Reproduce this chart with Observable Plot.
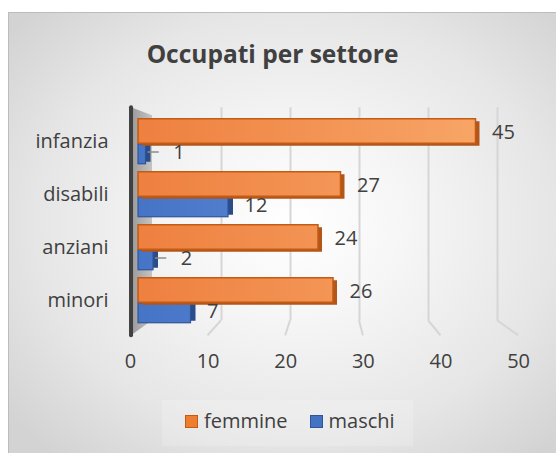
<!DOCTYPE html>
<html><head><meta charset="utf-8">
<script src="https://cdn.jsdelivr.net/npm/d3@7"></script>
<script src="https://cdn.jsdelivr.net/npm/@observablehq/plot@0.6"></script>
<style>
body{margin:0;background:#fff;font-family:"Open Sans",sans-serif;}
#wrap{position:relative;width:556px;height:453px;overflow:hidden;}
#frame{position:absolute;left:8px;top:12px;width:560px;height:460px;border-left:1.5px solid #bcbcbc;border-top:1.5px solid #bcbcbc;
 background:radial-gradient(ellipse 66% 66% at 51% 46%, #ffffff 0%, #f6f6f6 30%, #e6e6e6 70%, #d3d3d3 100%);}
#title{position:absolute;left:0;width:545px;top:38px;line-height:32px;text-align:center;font-weight:700;font-size:24.5px;color:#404040;}
#chart{position:absolute;left:0;top:90px;}
#legendbox{position:absolute;left:162px;top:400px;width:251px;height:46px;background:rgba(255,255,255,0.18);}
#legend{position:absolute;left:185px;top:406px;display:flex;align-items:center;font-size:20px;color:#404040;line-height:30px;}
.sw{width:11px;height:11px;border:1.5px solid;margin-right:6px;}
</style></head>
<body><div id="wrap"><div id="frame"></div><div id="title">Occupati per settore</div><div id="chart"></div><div id="legendbox"></div><div id="legend"></div></div>
<script>
const categories = ["infanzia", "disabili", "anziani", "minori"];
const seriesNames = ["femmine", "maschi"];
const femmine = [45, 27, 24, 26];
const maschi = [1, 12, 2, 7];
const xTicks = [0, 10, 20, 30, 40, 50];
const colors = {femmine: "#ED7D31", maschi: "#4472C4"};
const strokes = {femmine: "#C55A11", maschi: "#2F5597"};

const fem = categories.map((c, i) => ({cat: c, series: "femmine", value: femmine[i]}));
const mas = categories.map((c, i) => ({cat: c, series: "maschi", value: maschi[i]}));

// perspective helpers (data units of the front bar plane)
const backU = v => 1.87 + 0.92 * v;   // back wall plane
const frontU = v => -1.07 + 1.035 * v; // front floor edge
const textColor = "#404040";

const chrome = (index, scales, values, dims) => {
  const x = scales.x;
  const g = d3.create("svg:g");
  const defs = g.append("defs");
  const go = defs.append("linearGradient").attr("id", "gOrange").attr("gradientUnits", "userSpaceOnUse")
    .attr("x1", x(0)).attr("x2", x(50)).attr("y1", 0).attr("y2", 0);
  go.append("stop").attr("offset", 0).attr("stop-color", "#EE8040");
  go.append("stop").attr("offset", 1).attr("stop-color", "#F8A96A");
  const gb = defs.append("linearGradient").attr("id", "gBlue").attr("gradientUnits", "userSpaceOnUse")
    .attr("x1", x(0)).attr("x2", x(50)).attr("y1", 0).attr("y2", 0);
  gb.append("stop").attr("offset", 0).attr("stop-color", "#4674C6");
  gb.append("stop").attr("offset", 1).attr("stop-color", "#7098DE");
  const gw = defs.append("linearGradient").attr("id", "gWall").attr("x1", 0).attr("x2", 1).attr("y1", 0).attr("y2", 0);
  gw.append("stop").attr("offset", 0).attr("stop-color", "#9a9a9a");
  gw.append("stop").attr("offset", 1).attr("stop-color", "#c4c4c4");
  const top = dims.marginTop, bot = dims.height - dims.marginBottom;
  const xa = x(-0.93), xb = x(backU(0));
  g.append("path").attr("d", `M${xa},${top - 7}L${xb},${top + 1}L${xb},${bot - 8}L${xa},${bot + 7}Z`).attr("fill", "url(#gWall)");
  for (const v of xTicks.slice(1)) {
    g.append("path").attr("d", `M${x(backU(v))},${bot - 8}L${x(frontU(v))},${bot + 7}`)
      .attr("stroke", "#d6d6d6").attr("stroke-width", 2).attr("fill", "none");
  }
  g.append("line").attr("x1", xa).attr("x2", xa).attr("y1", top - 7).attr("y2", bot + 7)
    .attr("stroke", "#404040").attr("stroke-width", 4).attr("stroke-linecap", "round");
  return g.node();
};

const small = mas.filter(d => d.value < 3);
const labelX = d => d.value < 3 ? d.value + 1.5 : d.value;

const plot = Plot.plot({
  width: 556, height: 295,
  marginLeft: 138, marginRight: 43, marginTop: 24.25, marginBottom: 56.75,
  x: {domain: [0, 50], axis: null},
  y: {domain: categories, padding: 0, axis: null, label: null},
  style: {fontFamily: "Open Sans, sans-serif", color: textColor, background: "transparent", overflow: "visible"},
  marks: [
    Plot.ruleX(xTicks.slice(1), {x: backU, stroke: "#d6d6d6", strokeWidth: 2, insetTop: -7, insetBottom: 8}),
    chrome,
    Plot.axisY({tickSize: 0, tickPadding: 30, fontSize: 20, fill: textColor, label: null}),
    Plot.barX(mas, {x: "value", y: "cat", insetTop: 28.75, insetBottom: 4.25, fill: "#2B4C8A", dx: 5, dy: -2}),
    Plot.barX(mas, {x: "value", y: "cat", insetTop: 28.75, insetBottom: 4.25, fill: "url(#gBlue)", stroke: strokes.maschi, strokeWidth: 1.2}),
    Plot.barX(fem, {x: "value", y: "cat", insetTop: 3.75, insetBottom: 24.75, fill: "#B3561A", dx: 4, dy: 2.5}),
    Plot.barX(fem, {x: "value", y: "cat", insetTop: 3.75, insetBottom: 24.75, fill: "url(#gOrange)", stroke: strokes.femmine, strokeWidth: 1.5}),
    Plot.ruleY(small, {y: "cat", x1: "value", x2: d => d.value + 1.5, dy: 10, dx: 2, stroke: "#8c8c8c", strokeWidth: 1.5}),
    Plot.text(fem, {x: "value", y: "cat", text: d => String(d.value), textAnchor: "start", dx: 16, dy: -9, fontSize: 20, fill: textColor}),
    Plot.text(mas, {x: labelX, y: "cat", text: d => String(d.value), textAnchor: "start", dx: 16, dy: 11, fontSize: 20, fill: textColor}),
    Plot.text(xTicks, {x: frontU, text: d => String(d), frameAnchor: "bottom", dy: 39, fontSize: 20, fill: textColor})
  ]
});
document.getElementById("chart").appendChild(plot);

const legend = d3.select("#legend");
seriesNames.forEach((s, i) => {
  legend.append("div").attr("class", "sw").style("background", colors[s]).style("border-color", strokes[s]);
  legend.append("div").text(s).style("margin-right", i === 0 ? "22px" : "0");
});
</script></body></html>
